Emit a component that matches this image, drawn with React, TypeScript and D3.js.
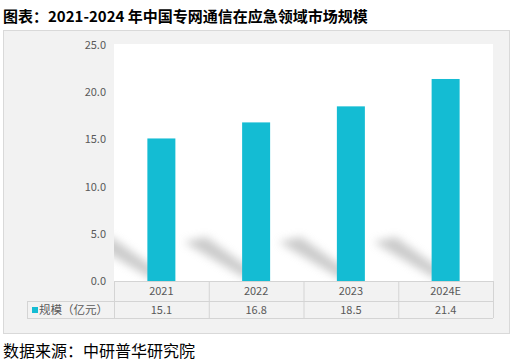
import * as d3 from "d3";

const categories = ["2021", "2022", "2023", "2024E"];
const values = [15.1, 16.8, 18.5, 21.4];
const yTicks = [0, 5, 10, 15, 20, 25];
const seriesName = "规模（亿元）";
const title = "图表：2021-2024 年中国专网通信在应急领域市场规模";
const source = "数据来源：中研普华研究院";

const W = 516;
const H = 363;
const plot = { left: 114, right: 493, top: 45, bottom: 281 };
const rowH = [20, 17];
const barColor = "#14bcd3";
const font = "'Microsoft YaHei', 'Noto Sans CJK SC', sans-serif";

const App = () => {
  const x = d3
    .scaleBand()
    .domain(categories)
    .range([plot.left, plot.right])
    .paddingInner(0)
    .paddingOuter(0);

  const y = d3.scaleLinear().domain([0, 25]).range([plot.bottom, plot.top]);

  const barW = 28;
  const row1 = plot.bottom + rowH[0];
  const row2 = row1 + rowH[1];
  const tableLeft = 27;
  const fmt = d3.format(".1f");

  return (
    <svg
      width={W}
      height={H}
      viewBox={`0 0 ${W} ${H}`}
      style={{ position: "absolute", left: 0, top: 0, background: "#fff" }}
    >
      <defs>
        <filter id="blur" x="-50%" y="-50%" width="200%" height="200%">
          <feGaussianBlur stdDeviation="4" />
        </filter>
        <clipPath id="plotClip">
          <rect x={plot.left} y={plot.top} width={plot.right - plot.left} height={plot.bottom - plot.top} />
        </clipPath>
      </defs>

      <text x={3} y={22} fontSize={15} fontWeight="bold" fontFamily={font} fill="#000">
        {title}
      </text>

      {/* panel */}
      <rect x={3.5} y={30.5} width={506} height={303} fill="#f2f2f2" stroke="#d9d9d9" />
      <rect x={plot.left} y={plot.top - 1} width={plot.right - plot.left} height={plot.bottom - plot.top + 1} fill="#fff" />

      {/* shadows */}
      <g clipPath="url(#plotClip)">
        {categories.map((c, i) => {
          const cx = (x(c) ?? 0) + x.bandwidth() / 2;
          const x0 = cx - barW / 2;
          const x1 = cx + barW / 2;
          const b = plot.bottom;
          const dx = 64;
          const dy = 44;
          const pts = [
            [x0 + 3, b - 3],
            [x1 - 6, b - 2],
            [x1 - dx, b - dy],
            [x0 - dx + 6, b - dy + 5],
          ];
          return (
            <polygon
              key={"s" + i}
              points={pts.map((p) => p.join(",")).join(" ")}
              fill="#a8a8a8"
              opacity={0.6}
              filter="url(#blur)"
            />
          );
        })}
      </g>

      {/* bars */}
      {categories.map((c, i) => {
        const cx = (x(c) ?? 0) + x.bandwidth() / 2;
        return (
          <rect
            key={c}
            x={cx - barW / 2}
            y={y(values[i])}
            width={barW}
            height={plot.bottom - y(values[i])}
            fill={barColor}
          />
        );
      })}

      {/* y axis labels */}
      {yTicks.map((t) => (
        <text
          key={t}
          x={106}
          y={y(t) + 4}
          textAnchor="end"
          fontSize={11}
          fontFamily={font}
          fill="#595959"
        >
          {fmt(t)}
        </text>
      ))}

      {/* data table */}
      <g stroke="#d4d4d4" strokeWidth={1} fill="none">
        <line x1={plot.left} x2={plot.right} y1={plot.bottom + 0.5} y2={plot.bottom + 0.5} />
        <line x1={tableLeft} x2={plot.right} y1={row1 + 0.5} y2={row1 + 0.5} />
        <line x1={tableLeft} x2={plot.right} y1={row2 + 0.5} y2={row2 + 0.5} />
        <line x1={tableLeft + 0.5} x2={tableLeft + 0.5} y1={row1} y2={row2} />
        {categories.map((c) => (
          <line key={c} x1={(x(c) ?? 0) + 0.5} x2={(x(c) ?? 0) + 0.5} y1={plot.bottom} y2={row2} />
        ))}
        <line x1={plot.right + 0.5} x2={plot.right + 0.5} y1={plot.bottom} y2={row2} />
      </g>
      {categories.map((c, i) => {
        const cx = (x(c) ?? 0) + x.bandwidth() / 2;
        return (
          <g key={"t" + c} fontSize={11} fontFamily={font} fill="#595959" textAnchor="middle">
            <text x={cx} y={plot.bottom + 14}>{c}</text>
            <text x={cx} y={row1 + 13}>{fmt(values[i])}</text>
          </g>
        );
      })}
      <rect x={32} y={row1 + 6} width={6} height={6} fill={barColor} />
      <text x={39} y={row1 + 13} fontSize={11.5} fontFamily={font} fill="#595959">
        {seriesName}
      </text>

      <text x={3} y={357} fontSize={16} fontFamily={font} fill="#000">
        {source}
      </text>
    </svg>
  );
};

export default App;
